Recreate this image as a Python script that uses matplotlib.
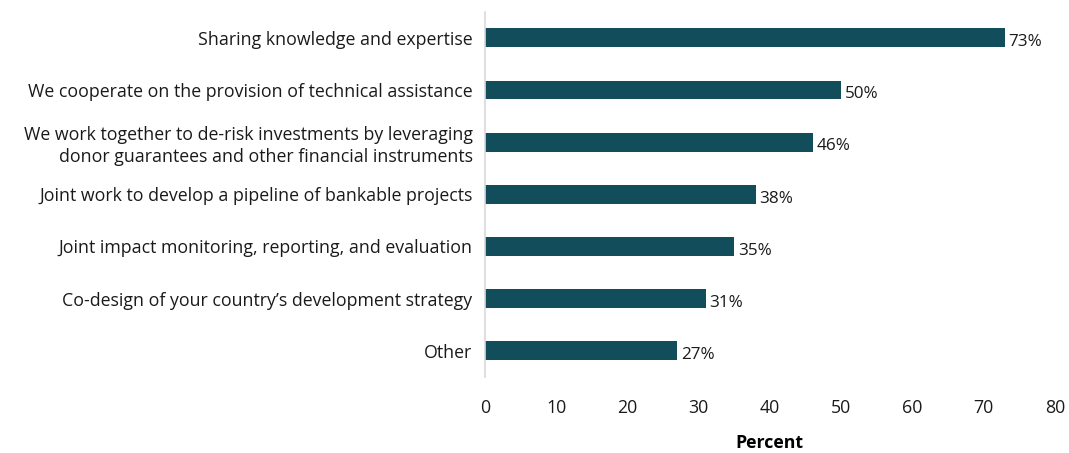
import matplotlib.pyplot as plt

plt.rcParams['font.family'] = ['Open Sans', 'DejaVu Sans']

categories = [
    'Sharing knowledge and expertise',
    'We cooperate on the provision of technical assistance',
    'We work together to de-risk investments by leveraging\ndonor guarantees and other financial instruments',
    'Joint work to develop a pipeline of bankable projects',
    'Joint impact monitoring, reporting, and evaluation',
    "Co-design of your country\u2019s development strategy",
    'Other',
]
percent = [73, 50, 46, 38, 35, 31, 27]
xticks = [0, 10, 20, 30, 40, 50, 60, 70, 80]

bar_color = '#124D5C'

fig = plt.figure(figsize=(10.69, 4.53), dpi=100)
ax = fig.add_axes([0.4537, 0.168, 0.533, 0.806])

ypos = list(range(len(categories)))
ax.barh(ypos, percent, height=0.36, color=bar_color)
ax.set_ylim(len(categories) - 0.5, -0.5)
ax.set_xlim(0, 80)
ax.set_yticks(ypos)
ax.set_yticklabels(categories, fontsize=12.8, color='#1a1a1a', linespacing=1.3)
ax.set_xticks(xticks)
ax.set_xticklabels([str(t) for t in xticks], fontsize=12.8, color='#1a1a1a')
ax.tick_params(axis='both', length=0)
ax.tick_params(axis='y', pad=9)
ax.tick_params(axis='x', pad=16)

for s in ['top', 'right', 'bottom']:
    ax.spines[s].set_visible(False)
ax.spines['left'].set_color('#d9d9d9')
ax.spines['left'].set_linewidth(1.2)

for y, v in zip(ypos, percent):
    ax.text(v + 0.5, y + 0.08, f'{v}%', va='center', ha='left',
            fontsize=12.3, color='#1a1a1a')

ax.set_xlabel('Percent', fontsize=12.8, fontweight='bold', labelpad=12)

fig.savefig('out.png', dpi=100)
